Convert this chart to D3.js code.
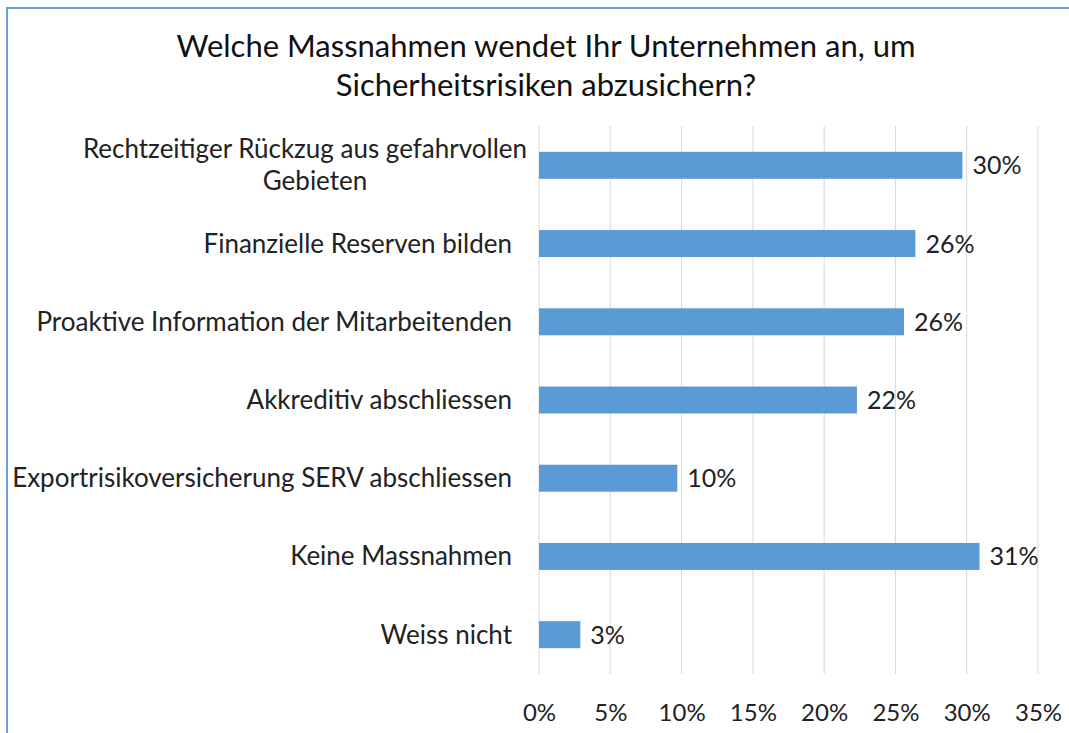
<!DOCTYPE html>
<html>
<head>
<meta charset="utf-8">
<script src="https://cdn.jsdelivr.net/npm/d3@7"></script>
<style>
  body { margin: 0; background: #fff; }
  text { font-family: Lato, "Open Sans", sans-serif; }
</style>
</head>
<body>
<div id="chart"></div>
<script>
// daten aus der umfrage
var categories = [
  "Rechtzeitiger Rückzug aus gefahrvollen Gebieten",
  "Finanzielle Reserven bilden",
  "Proaktive Information der Mitarbeitenden",
  "Akkreditiv abschliessen",
  "Exportrisikoversicherung SERV abschliessen",
  "Keine Massnahmen",
  "Weiss nicht"
];
var values = [0.297, 0.264, 0.256, 0.223, 0.097, 0.309, 0.029];
var valueLabels = ["30%", "26%", "26%", "22%", "10%", "31%", "3%"];
var ticks = [0, 0.05, 0.10, 0.15, 0.20, 0.25, 0.30, 0.35];
var titleLines = ["Welche Massnahmen wendet Ihr Unternehmen an, um", "Sicherheitsrisiken abzusichern?"];

var width = 1069, height = 733;
var margin = {top: 126, right: 31, bottom: 59, left: 539};

var svg = d3.select("#chart").append("svg")
  .attr("width", width)
  .attr("height", height);

// rahmen
svg.append("rect")
  .attr("x", 7).attr("y", 8)
  .attr("width", width + 20).attr("height", height + 20)
  .attr("fill", "none")
  .attr("stroke", "#6a9fd8")
  .attr("stroke-width", 2);

// titel
svg.selectAll(".title")
  .data(titleLines)
  .enter().append("text")
  .attr("class", "title")
  .attr("x", 546)
  .attr("y", function (d, i) { return 57 + i * 39; })
  .attr("text-anchor", "middle")
  .style("font-size", "31px")
  .style("fill", "#111")
  .text(function (d) { return d; });

var x = d3.scaleLinear()
  .domain([0, 0.35])
  .range([margin.left, width - margin.right]);

var y = d3.scaleBand()
  .domain(categories)
  .range([margin.top, height - margin.bottom])
  .paddingInner(0.655)
  .paddingOuter(0.33);

// gitterlinien
svg.append("g")
  .selectAll("line")
  .data(ticks)
  .enter().append("line")
  .attr("x1", function (d) { return x(d); })
  .attr("x2", function (d) { return x(d); })
  .attr("y1", margin.top)
  .attr("y2", height - margin.bottom)
  .attr("stroke", "#d9d9d9")
  .attr("stroke-width", 1);

// x-achse
var xAxis = d3.axisBottom(x)
  .tickValues(ticks)
  .tickFormat(d3.format(".0%"))
  .tickSize(0)
  .tickPadding(0);

var ax = svg.append("g")
  .attr("transform", "translate(0," + (height - margin.bottom) + ")")
  .call(xAxis);
ax.select(".domain").remove();
ax.selectAll("text")
  .attr("dy", null)
  .attr("y", 47)
  .style("font-size", "24px")
  .style("font-family", "Lato, sans-serif")
  .style("fill", "#222");

// balken
svg.append("g")
  .selectAll("rect")
  .data(values)
  .enter().append("rect")
  .attr("x", x(0))
  .attr("y", function (d, i) { return y(categories[i]); })
  .attr("width", function (d) { return x(d) - x(0); })
  .attr("height", y.bandwidth())
  .attr("fill", "#5b9bd5");

// wertbeschriftungen
svg.append("g")
  .selectAll("text")
  .data(values)
  .enter().append("text")
  .attr("x", function (d) { return x(d) + 10; })
  .attr("y", function (d, i) { return y(categories[i]) + y.bandwidth() / 2 + 9; })
  .style("font-size", "25px")
  .style("fill", "#222")
  .text(function (d, i) { return valueLabels[i]; });

// kategorien (erste zeile umgebrochen)
var catLines = [
  ["Rechtzeitiger Rückzug aus gefahrvollen", "Gebieten"],
  ["Finanzielle Reserven bilden"],
  ["Proaktive Information der Mitarbeitenden"],
  ["Akkreditiv abschliessen"],
  ["Exportrisikoversicherung SERV abschliessen"],
  ["Keine Massnahmen"],
  ["Weiss nicht"]
];

var cat = svg.append("g")
  .selectAll("text")
  .data(categories)
  .enter().append("text")
  .style("font-size", "26px")
  .style("fill", "#222");

cat.each(function (d, i) {
  var lines = catLines[i];
  var cy = y(d) + y.bandwidth() / 2;
  var t = d3.select(this);
  lines.forEach(function (l, j) {
    var wrapped = lines.length > 1;
    t.append("tspan")
      .attr("x", wrapped ? (j == 0 ? 527 : 315) : 512)
      .attr("text-anchor", wrapped && j > 0 ? "middle" : "end")
      .attr("y", cy + 9 + (j - (lines.length - 1) / 2) * 32)
      .text(l);
  });
});
</script>
</body>
</html>
